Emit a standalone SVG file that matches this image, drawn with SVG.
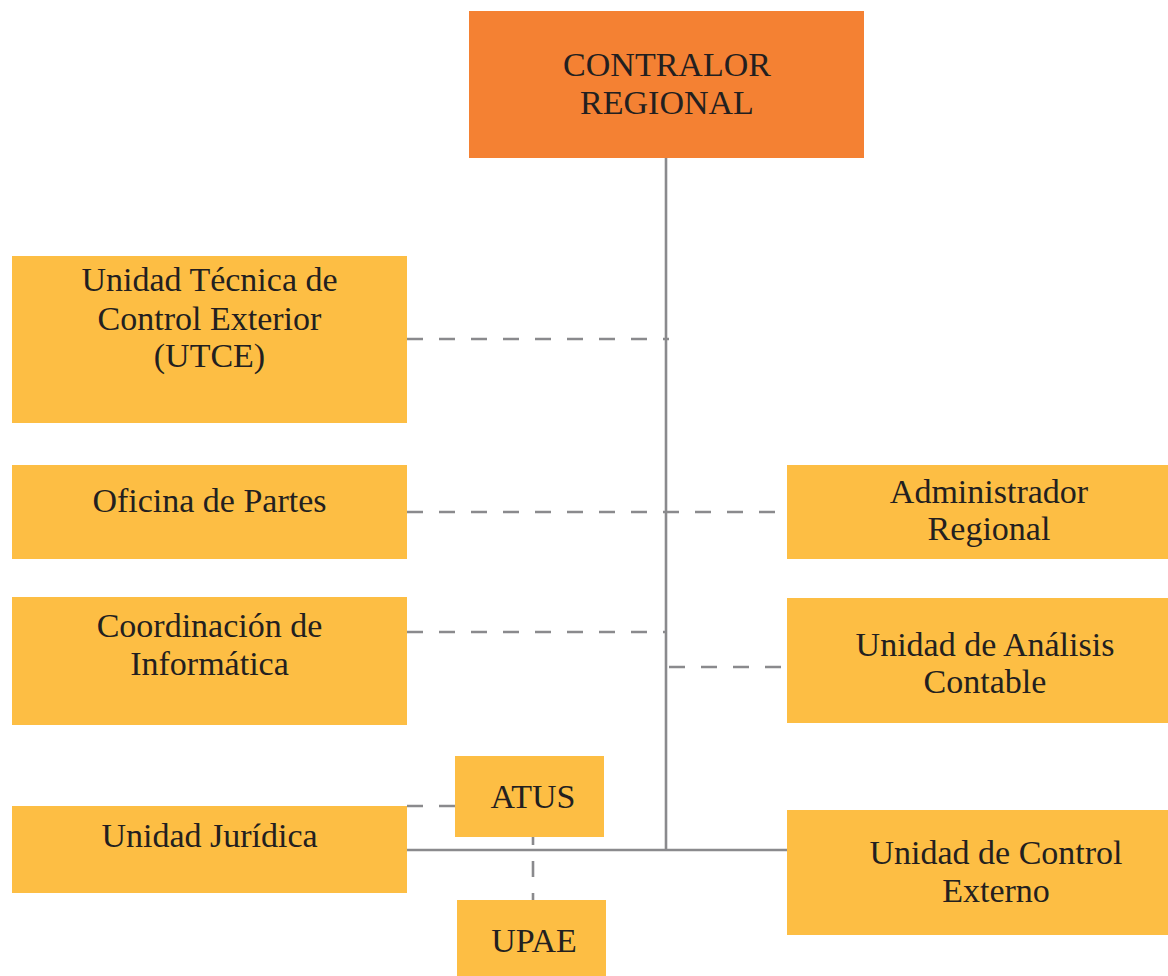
<svg xmlns="http://www.w3.org/2000/svg" width="1168" height="976" viewBox="0 0 1168 976">
<style>
.box{fill:#FDBE44}
.top{fill:#F48133}
text{font-family:"Liberation Serif","Times New Roman",serif;font-size:34px;fill:#231F20;text-anchor:middle}
.solid{stroke:#8A8A8D;stroke-width:2.6;fill:none}
.dash{stroke:#8A8A8D;stroke-width:2.6;fill:none;stroke-dasharray:16 16}
</style>
<rect width="1168" height="976" fill="#FFFFFF"/>
<g id="connectors">
<line class="solid" x1="666" y1="158" x2="666" y2="851"/>
<line class="solid" x1="407" y1="850" x2="787" y2="850"/>
<line class="dash" x1="407" y1="339" x2="669" y2="339"/>
<line class="dash" x1="407" y1="512" x2="776" y2="512"/>
<line class="dash" x1="407" y1="632" x2="667" y2="632"/>
<line class="dash" x1="669" y1="667" x2="787" y2="667"/>
<line class="dash" x1="407" y1="806" x2="455" y2="806"/>
<line class="dash" x1="533" y1="829" x2="533" y2="909"/>
</g>
<g id="contralor">
<rect class="top" x="469" y="11" width="395" height="147"/>
<text x="667" y="76">CONTRALOR</text>
<text x="667" y="114">REGIONAL</text>
</g>
<g id="utce">
<rect class="box" x="12" y="256" width="395" height="167"/>
<text x="209.5" y="291">Unidad Técnica de</text>
<text x="209.5" y="330">Control Exterior</text>
<text x="209.5" y="367">(UTCE)</text>
</g>
<g id="oficina">
<rect class="box" x="12" y="465" width="395" height="94"/>
<text x="209.5" y="512">Oficina de Partes</text>
</g>
<g id="coordinacion">
<rect class="box" x="12" y="597" width="395" height="128"/>
<text x="209.5" y="637">Coordinación de</text>
<text x="209.5" y="675">Informática</text>
</g>
<g id="juridica">
<rect class="box" x="12" y="806" width="395" height="87"/>
<text x="209.5" y="847">Unidad Jurídica</text>
</g>
<g id="atus">
<rect class="box" x="455" y="756" width="149" height="81"/>
<text x="533" y="808">ATUS</text>
</g>
<g id="upae">
<rect class="box" x="457" y="900" width="149" height="76"/>
<text x="534" y="952">UPAE</text>
</g>
<g id="administrador">
<rect class="box" x="787" y="465" width="381" height="94"/>
<text x="989" y="503">Administrador</text>
<text x="989" y="540">Regional</text>
</g>
<g id="analisis">
<rect class="box" x="787" y="598" width="381" height="125"/>
<text x="985" y="656">Unidad de Análisis</text>
<text x="985" y="693">Contable</text>
</g>
<g id="control-externo">
<rect class="box" x="787" y="810" width="381" height="125"/>
<text x="996" y="864">Unidad de Control</text>
<text x="996" y="902">Externo</text>
</g>
</svg>
